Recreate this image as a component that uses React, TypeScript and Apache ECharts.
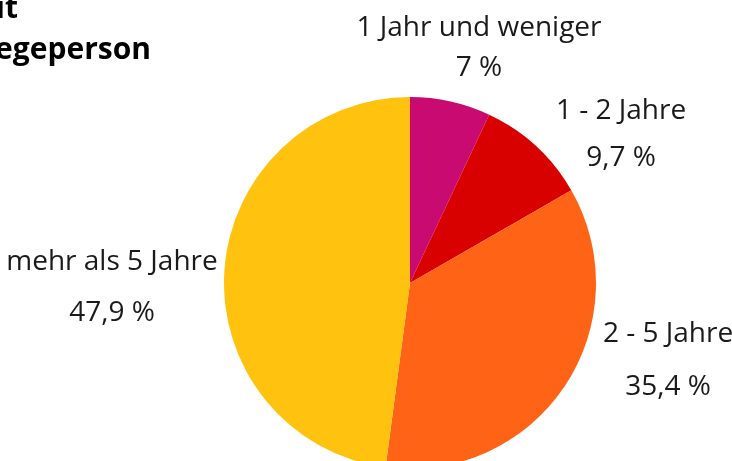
import React, { useEffect, useRef } from "react";
import * as echarts from "echarts";

const categories = ["1 Jahr und weniger", "1 - 2 Jahre", "2 - 5 Jahre", "mehr als 5 Jahre"];
const values = [7, 9.7, 35.4, 47.9];
const colors = ["#C80A71", "#D90000", "#FF6316", "#FFC20E"];
const titleLines = ["Dauer der Pflegetätigkeit", "der Hauptpflegeperson"];

// label placement (centre of each label block) and line spacing
const labelCentres = [
  [479, 45],
  [621, 131],
  [668, 357],
  [112, 284],
];
const labelLineHeights = [40, 47, 53, 51];

export default function App() {
  const ref = useRef<HTMLDivElement>(null);
  useEffect(() => {
    if (!ref.current) return;
    const chart = echarts.init(ref.current, null, { renderer: "svg" });
    const fmt = (v: number) => String(v).replace(".", ",") + " %";
    chart.setOption({
      animation: false,
      textStyle: { fontFamily: "Open Sans" },
      graphic: [
        {
          type: "text",
          x: 18,
          y: 21,
          style: {
            text: titleLines[0],
            fontFamily: "Open Sans",
            fontSize: 30,
            fontWeight: "bold",
            fill: "#000",
            align: "right",
            verticalAlign: "bottom",
          },
        },
        {
          type: "text",
          x: 151,
          y: 62,
          style: {
            text: titleLines[1],
            fontFamily: "Open Sans",
            fontSize: 30,
            fontWeight: "bold",
            fill: "#000",
            align: "right",
            verticalAlign: "bottom",
          },
        },
      ],
      series: [
        {
          type: "pie",
          center: [410, 283],
          radius: 186,
          startAngle: 90,
          clockwise: true,
          itemStyle: { borderWidth: 0 },
          labelLine: { show: false },
          label: {
            show: true,
            position: "outside",
            alignTo: "none",
            overflow: "none",
            width: 400,
            fontFamily: "Open Sans",
            fontSize: 28,
            color: "#1a1a1a",
            formatter: (p: any) => p.name + "\n" + fmt(p.value),
          },
          labelLayout: (params: any) => {
            const c = labelCentres[params.dataIndex];
            return { x: c[0], y: c[1], align: "center", verticalAlign: "middle" };
          },
          data: categories.map((name, i) => ({
            name,
            value: values[i],
            itemStyle: { color: colors[i] },
            label: { lineHeight: labelLineHeights[i] },
          })),
        },
      ],
    });
    return () => chart.dispose();
  }, []);
  return (
    <div
      ref={ref}
      style={{ position: "fixed", left: 0, top: 0, width: 732, height: 461 }}
    />
  );
}
